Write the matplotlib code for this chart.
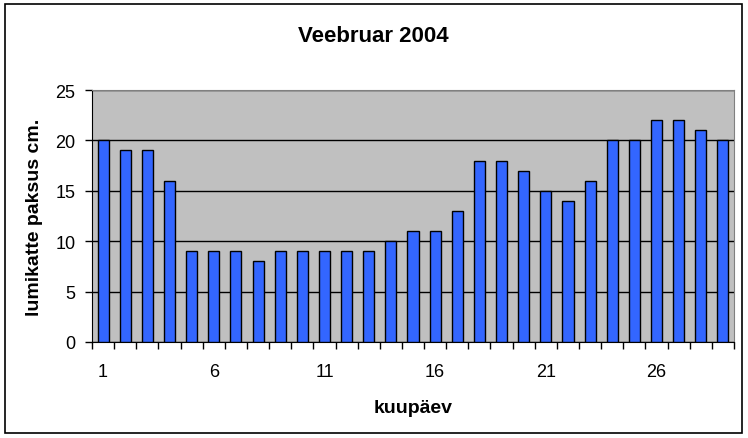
import matplotlib
matplotlib.use("Agg")
import numpy as np
import matplotlib.pyplot as plt
import matplotlib.patches as mpatches

days = list(range(1, 30))
snow_cm = [20, 19, 19, 16, 9, 9, 9, 8, 9, 9, 9, 9, 9, 10, 11, 11, 13,
           18, 18, 17, 15, 14, 16, 20, 20, 22, 22, 21, 20]
label_days = [1, 6, 11, 16, 21, 26]
y_ticks = [0, 5, 10, 15, 20, 25]

plt.rcParams['font.family'] = ['Liberation Sans', 'DejaVu Sans']

fig = plt.figure(figsize=(7.48, 4.39), dpi=100)
ax = fig.add_axes([92 / 748, 1 - 343 / 439, 642 / 748, 252 / 439])

ax.set_facecolor('#C0C0C0')
ax.bar(days, snow_cm, width=0.5, color='#3366FF', edgecolor='black',
       linewidth=1, zorder=3)

ax.set_xlim(0.5, len(days) + 0.5)
ax.set_ylim(0, 25)
ax.set_yticks(y_ticks)
ax.yaxis.grid(True, color='black', linewidth=1, zorder=1)
ax.set_axisbelow(True)

# ticks between categories, labels every 5th day
ax.set_xticks(np.arange(0.5, len(days) + 1, 1))
ax.set_xticklabels([])
ax.set_xticks(label_days, minor=True)
ax.set_xticklabels([str(d) for d in label_days], minor=True)
ax.tick_params(axis='x', which='major', length=5, width=1, direction='out')
ax.tick_params(axis='x', which='minor', length=0, pad=15, labelsize=13)
ax.tick_params(axis='y', length=5, width=1, labelsize=13, pad=7)

for s in ['top', 'right']:
    ax.spines[s].set_color('#808080')
ax.spines['left'].set_color('black')
ax.spines['bottom'].set_color('black')

ax.set_ylabel('lumikatte paksus cm.', fontsize=14, fontweight='bold', labelpad=9)
ax.set_xlabel('kuupäev', fontsize=14, fontweight='bold', labelpad=14)
fig.text(373 / 748, 1 - 36 / 439, 'Veebruar 2004', fontsize=16,
         fontweight='bold', ha='center', va='center')

border = mpatches.Rectangle((5 / 748, 1 - 434 / 439), 737 / 748, 429 / 439,
                            transform=fig.transFigure, fill=False,
                            edgecolor='black', linewidth=1.2)
fig.patches.append(border)

fig.savefig('out.png', dpi=100)
